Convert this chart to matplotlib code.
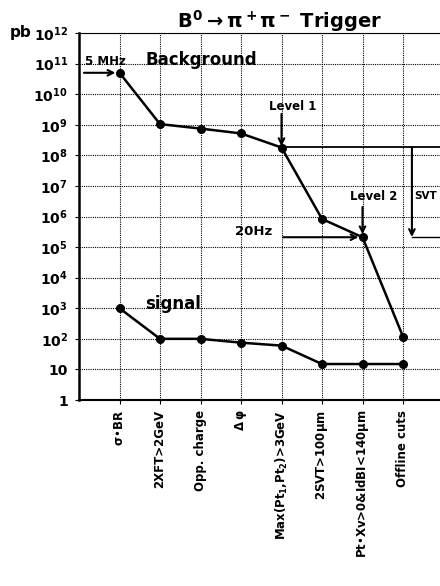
import matplotlib
matplotlib.use("Agg")
import matplotlib.pyplot as plt
from matplotlib.ticker import FixedLocator, FixedFormatter

plt.rcParams["font.family"] = ["DejaVu Sans"]
plt.rcParams["font.weight"] = "bold"
plt.rcParams["mathtext.default"] = "bf"

cuts = [
    r"$\sigma$•BR",
    "2XFT>2GeV",
    "Opp. charge",
    r"$\Delta\,\varphi$",
    r"Max(Pt$_1$,Pt$_2$)>3GeV",
    r"2SVT>100$\mu$m",
    r"Pt•Xv>0&IdBI<140$\mu$m",
    "Offline cuts",
]
background = [5e10, 1.05e9, 7.5e8, 5.2e8, 1.8e8, 8.3e5, 2.1e5, 118]
signal = [1000, 100, 100, 75, 60, 15, 15, 15]

decades = list(range(0, 13))
decade_labels = ["1", "10"] + [r"$10^{%d}$" % d for d in decades[2:]]

x = list(range(1, len(cuts) + 1))

fig = plt.figure(figsize=(4.4, 5.86), dpi=100)
ax = fig.add_axes([79 / 440, 1 - 400 / 586, 364.5 / 440, 367 / 586])

ax.set_yscale("log")
ax.set_ylim(1, 1e12)
ax.set_xlim(0, 9)

ax.plot(x, background, color="black", lw=1.8, marker="o", ms=5.5, zorder=4)
ax.plot(x, signal, color="black", lw=1.8, marker="o", ms=5.5, zorder=4)

ax.yaxis.set_major_locator(FixedLocator([10.0 ** d for d in decades]))
ax.yaxis.set_major_formatter(FixedFormatter(decade_labels))
ax.yaxis.set_minor_locator(FixedLocator([]))
ax.set_xticks(x)
ax.set_xticklabels(cuts, rotation=90, fontsize=8.5, va="top", ha="center")
ax.tick_params(axis="y", labelsize=10, length=3, pad=5)
ax.tick_params(axis="x", length=3, pad=4)

ax.grid(True, which="major", color="black", ls=(0, (1, 1)), lw=0.8)
ax.spines["right"].set_visible(False)
ax.spines["left"].set_linewidth(1.8)
ax.spines["bottom"].set_linewidth(1.5)
ax.spines["top"].set_linewidth(0.8)
ax.spines["top"].set_linestyle((0, (1, 1)))

arrow = dict(arrowstyle="->", color="black", lw=1.5, shrinkA=0, shrinkB=0)

# rate annotations
ax.annotate("", xy=(0.9, 5e10), xytext=(0.12, 5e10), arrowprops=arrow)
ax.text(0.15, 10 ** 11.08, "5 MHz", fontsize=8.5, va="center", ha="left")
ax.text(1.63, 10 ** 11.12, "Background", fontsize=12, va="center", ha="left")
ax.text(1.63, 10 ** 3.14, "signal", fontsize=12, va="center", ha="left")

ax.text(5.28, 10 ** 9.61, "Level 1", fontsize=8.5, va="center", ha="center")
ax.annotate("", xy=(5.0, 10 ** 8.3), xytext=(5.0, 10 ** 9.35), arrowprops=arrow)
ax.plot([5.0, 9.0], [1.85e8, 1.85e8], color="black", lw=1.3)

ax.text(7.28, 10 ** 6.67, "Level 2", fontsize=8.5, va="center", ha="center")
ax.annotate("", xy=(7.0, 10 ** 5.42), xytext=(7.0, 10 ** 6.31), arrowprops=arrow)
ax.text(8.28, 10 ** 6.67, "SVT", fontsize=7.5, va="center", ha="left")
ax.annotate("", xy=(8.22, 10 ** 5.33), xytext=(8.22, 1.85e8), arrowprops=arrow)
ax.plot([8.22, 9.0], [2.1e5, 2.1e5], color="black", lw=1.0)

ax.text(4.3, 10 ** 5.5, "20Hz", fontsize=9.5, va="center", ha="center")
ax.annotate("", xy=(6.9, 2.1e5), xytext=(5.04, 2.1e5), arrowprops=arrow)

fig.text(280 / 440, 1 - 21 / 586, r"B$^0\rightarrow\pi^+\pi^-$ Trigger",
         fontsize=14, ha="center", va="center")
fig.text(10 / 440, 1 - 33 / 586, "pb", fontsize=11, ha="left", va="center")

fig.savefig("out.png", dpi=100)
